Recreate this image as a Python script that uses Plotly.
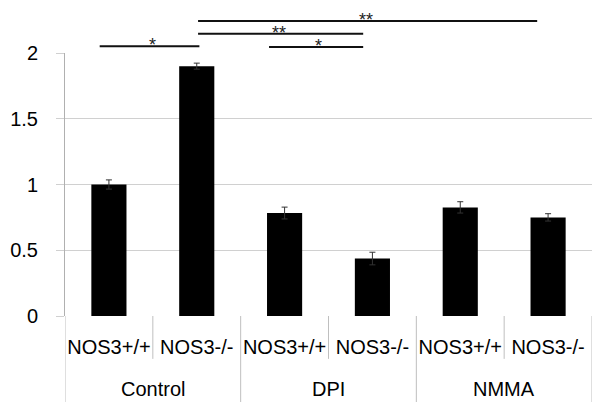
import plotly.graph_objects as go

# ---- data ----
genotypes = ["NOS3+/+", "NOS3-/-", "NOS3+/+", "NOS3-/-", "NOS3+/+", "NOS3-/-"]
treatments = ["Control", "DPI", "NMMA"]
values = [1.00, 1.90, 0.783, 0.437, 0.826, 0.75]
errors = [0.035, 0.023, 0.045, 0.048, 0.043, 0.028]
y_ticks = [0, 0.5, 1, 1.5, 2]
y_tick_labels = ["0", "0.5", "1", "1.5", "2"]
# significance brackets: (x start, x end, label x, height in data units, label)
brackets = [
    (-0.105, 1.03, 0.50, 2.051, "*"),
    (1.015, 2.895, 1.94, 2.147, "**"),
    (1.823, 2.895, 2.39, 2.046, "*"),
    (1.015, 4.876, 2.93, 2.243, "**"),
]

FONT = "Liberation Sans"
ymax = 2.0
xpos = list(range(len(values)))

fig = go.Figure()
fig.add_trace(go.Bar(
    x=xpos, y=values, width=0.4,
    marker=dict(color="black", line=dict(width=0)),
    error_y=dict(type="data", array=errors, visible=True,
                 color="#333333", thickness=1, width=3),
    showlegend=False,
))

shapes = []
annotations = []
# significance lines
for x0, x1, xl, h, lab in brackets:
    yp = h / ymax
    shapes.append(dict(type="line", xref="x", yref="paper", x0=x0, x1=x1, y0=yp, y1=yp,
                       line=dict(color="#111111", width=2)))
    annotations.append(dict(xref="x", yref="paper", x=xl, y=yp, text=lab,
                            showarrow=False, yanchor="middle", yshift=1,
                            font=dict(family=FONT, size=18, color="#222222")))

# category dividers
n = len(values)
for i in range(n + 1):
    outer = (i % 2 == 0)
    shapes.append(dict(type="line", xref="x", yref="paper", x0=i - 0.5, x1=i - 0.5,
                       y0=0, y1=(-0.327 if outer else -0.163),
                       line=dict(color="#bfbfbf", width=1)))
# treatment group labels
for g, name in enumerate(treatments):
    annotations.append(dict(xref="x", yref="paper", x=2 * g + 0.5, y=-0.278, text=name,
                            showarrow=False, yanchor="middle",
                            font=dict(family=FONT, size=20, color="black")))

fig.update_layout(
    width=602, height=414,
    margin=dict(l=60, r=10, t=53, b=98),
    paper_bgcolor="white", plot_bgcolor="white",
    shapes=shapes, annotations=annotations,
    font=dict(family=FONT, size=20, color="black"),
    xaxis=dict(range=[-0.5, n - 0.5], tickvals=xpos, ticktext=genotypes,
               showgrid=False, zeroline=False, showline=False, ticks="",
               ticklabelstandoff=17,
               tickfont=dict(family=FONT, size=20, color="black")),
    yaxis=dict(range=[0, ymax], tickvals=y_ticks, ticktext=y_tick_labels,
               showgrid=True, gridcolor="#d0d0d0", gridwidth=1,
               zeroline=False, showline=True, linecolor="#b0b0b0", linewidth=1,
               ticks="outside", ticklen=8, tickcolor="#d0d0d0",
               ticklabelstandoff=14,
               tickfont=dict(family=FONT, size=20, color="black")),
    bargap=0.6,
)

fig.write_html("out.html", config={"displayModeBar": False},
               post_script="document.body.style.margin='0';")
